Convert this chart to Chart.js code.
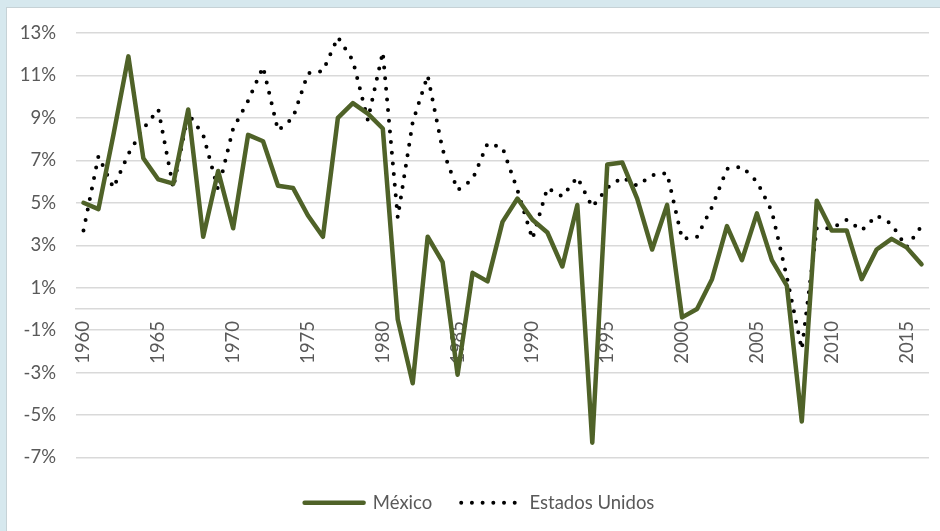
<!DOCTYPE html>
<html>
<head>
<meta charset="utf-8">
<script src="https://cdn.jsdelivr.net/npm/chart.js@4.4.1/dist/chart.umd.min.js"></script>
<style>
  html, body { margin: 0; padding: 0; }
  body { width: 940px; height: 531px; background: #d6e8ee; position: relative; overflow: hidden; }
  #box {
    position: absolute; left: 6px; top: 7px; width: 933px; height: 523px;
    background: #fff; border-left: 1px solid #c6d2d6; border-top: 1px solid #c6d2d6;
  }
</style>
</head>
<body>
<div id="box"><canvas id="myChart" width="933" height="523"></canvas></div>
<script>
// years on the category axis
const years = [];
for (let y = 1960; y <= 2016; y++) years.push(y);

// Mexico, % annual growth
const mexico = [
  5.0, 4.7, 8.2, 11.9, 7.1, 6.1, 5.9, 9.4, 3.4, 6.5,
  3.8, 8.2, 7.9, 5.8, 5.7, 4.4, 3.4, 9.0, 9.7, 9.2,
  8.5, -0.5, -3.5, 3.4, 2.2, -3.1, 1.7, 1.3, 4.1, 5.2,
  4.2, 3.6, 2.0, 4.9, -6.3, 6.8, 6.9, 5.2, 2.8, 4.9,
  -0.4, 0.0, 1.4, 3.9, 2.3, 4.5, 2.3, 1.1, -5.3, 5.1,
  3.7, 3.7, 1.4, 2.8, 3.3, 2.9, 2.1
];

// Estados Unidos, % annual growth
const usa = [
  3.7, 7.2, 5.7, 7.3, 8.5, 9.4, 5.7, 9.2, 8.2, 5.6,
  8.5, 9.8, 11.4, 8.4, 9.0, 11.1, 11.2, 12.8, 11.7, 8.9,
  12.1, 4.3, 8.8, 11.0, 7.5, 5.6, 6.1, 7.8, 7.6, 5.6,
  3.3, 5.7, 5.3, 6.2, 4.8, 5.7, 6.2, 5.8, 6.3, 6.4,
  3.3, 3.4, 4.8, 6.6, 6.7, 6.0, 4.6, 1.5, -1.9, 3.8,
  3.8, 4.2, 3.7, 4.4, 4.0, 2.9, 3.9
];

// y axis tick values
const yTicks = [-7, -5, -3, -1, 1, 3, 5, 7, 9, 11, 13];

const fontFamily = 'Lato, "Open Sans", sans-serif';
const fontSize = 18.5;
const textColor = '#595959';
const gridColor = '#d9d9d9';

// no automatic label overhang padding, the layout padding is set by hand
function noPadding(scale) {
  scale.paddingLeft = 0;
  scale.paddingRight = 0;
  scale.paddingTop = 0;
  scale.paddingBottom = 0;
}

// move the legend a little to the right, like the original
const legendShift = {
  id: 'legendShift',
  afterLayout(chart) {
    chart.legend.left += 11.5;
    chart.legend.right += 11.5;
  }
};

const ctx = document.getElementById('myChart').getContext('2d');

const chart = new Chart(ctx, {
  type: 'line',
  data: {
    labels: years,
    datasets: [
      {
        label: 'México',
        data: mexico,
        borderColor: '#4f6228',
        backgroundColor: '#4f6228',
        borderWidth: 4.5,
        borderCapStyle: 'round',
        borderJoinStyle: 'round',
        pointRadius: 0,
        tension: 0
      },
      {
        label: 'Estados Unidos',
        data: usa,
        borderColor: '#000000',
        backgroundColor: '#000000',
        borderWidth: 4,
        borderDash: [0, 10.7],
        borderCapStyle: 'round',
        borderJoinStyle: 'round',
        pointRadius: 0,
        tension: 0
      }
    ]
  },
  options: {
    responsive: false,
    animation: false,
    layout: {
      padding: { left: 0, right: 11, top: 25, bottom: 9 }
    },
    scales: {
      x: {
        type: 'category',
        offset: true,
        position: { y: 0 },
        afterFit: noPadding,
        grid: { display: false, drawTicks: false },
        border: { display: true, color: gridColor, width: 1.5 },
        ticks: {
          autoSkip: false,
          minRotation: 90,
          maxRotation: 90,
          padding: 12,
          color: textColor,
          font: { family: fontFamily, size: fontSize },
          callback: function (val, i) {
            const y = years[i];
            return y % 5 === 0 ? String(y) : '';
          }
        }
      },
      y: {
        min: -7,
        max: 13,
        afterBuildTicks: function (scale) {
          scale.ticks = yTicks.map(v => ({ value: v }));
        },
        afterFit: function (scale) {
          scale.width = 69;
          noPadding(scale);
        },
        grid: { color: gridColor, lineWidth: 1.5, drawTicks: false },
        border: { display: false },
        ticks: {
          padding: 20,
          color: textColor,
          font: { family: fontFamily, size: fontSize },
          callback: v => v + '%'
        }
      }
    },
    plugins: {
      legend: {
        position: 'bottom',
        title: { display: true, text: '', font: { size: 1 }, padding: { top: 5.8, bottom: 0 } },
        labels: {
          usePointStyle: true,
          pointStyleWidth: 59,
          padding: 29,
          color: textColor,
          font: { family: fontFamily, size: fontSize },
          generateLabels: function (chart) {
            return chart.data.datasets.map((ds, i) => ({
              text: ds.label,
              datasetIndex: i,
              hidden: false,
              fontColor: textColor,
              fillStyle: ds.borderColor,
              strokeStyle: ds.borderColor,
              lineWidth: ds.borderWidth,
              lineDash: ds.borderDash || [],
              lineCap: ds.borderCapStyle,
              pointStyle: 'line'
            }));
          }
        }
      },
      tooltip: { enabled: false }
    }
  },
  plugins: [legendShift]
});
</script>
</body>
</html>
